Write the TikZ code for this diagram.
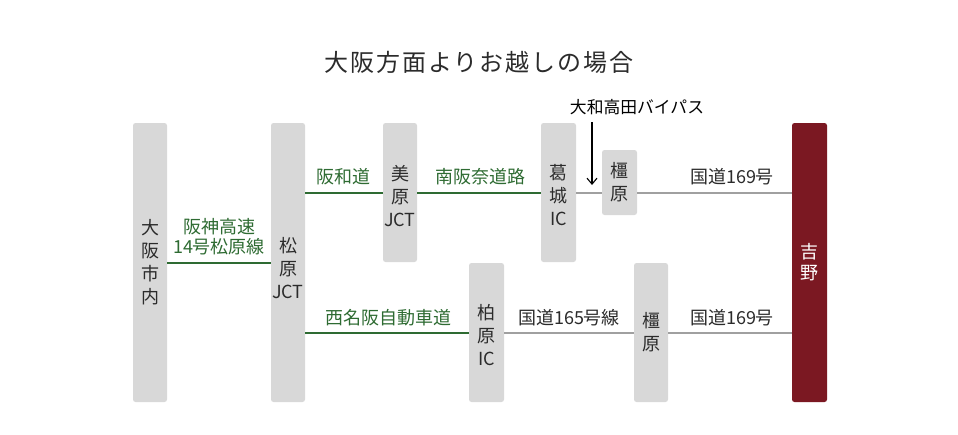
\documentclass[tikz,border=0pt]{standalone}
\usepackage{fontspec}
\setmainfont{Noto Sans CJK JP}
\usetikzlibrary{arrows.meta}
\definecolor{boxgray}{HTML}{D8D8D8}
\definecolor{txtgray}{HTML}{2B2B2B}
\definecolor{roadgreen}{HTML}{2E6B32}
\definecolor{roadgray}{HTML}{A0A0A0}
\definecolor{yoshinored}{HTML}{7B1822}
\tikzset{
  stopbox/.style={fill=boxgray, rounded corners=2.5pt, draw=none, inner sep=0pt},
  goalbox/.style={fill=yoshinored, rounded corners=2.5pt, draw=none, inner sep=0pt},
  boxtext/.style={text=txtgray, font=\fontsize{18}{23}\selectfont, align=center, inner sep=0pt},
  goaltext/.style={text=white, font=\fontsize{18}{21}\selectfont, align=center, inner sep=0pt},
  greenlabel/.style={text=roadgreen, font=\fontsize{18}{20}\selectfont, align=center, inner sep=0pt},
  graylabel/.style={text=txtgray, font=\fontsize{18}{20}\selectfont, align=center, inner sep=0pt},
  greenroad/.style={draw=roadgreen, line width=2pt},
  grayroad/.style={draw=roadgray, line width=2pt},
}
\begin{document}
\begin{tikzpicture}[x=1pt,y=-1pt]
\useasboundingbox (0,0) rectangle (958,434);
% title
\node[text=txtgray, font=\fontsize{24}{28}\selectfont, inner sep=0pt] (title) at (479,62)
  {\addfontfeatures{LetterSpace=8}大阪方面よりお越しの場合};
% boxes
\node[stopbox, minimum width=34pt, minimum height=279pt] (osaka) at (150,262.5) {};
\node[stopbox, minimum width=34pt, minimum height=279pt] (matsubara) at (288,262.5) {};
\node[stopbox, minimum width=34pt, minimum height=139pt] (mihara) at (400,192.5) {};
\node[stopbox, minimum width=35pt, minimum height=139pt] (katsuragi) at (558.5,192.5) {};
\node[stopbox, minimum width=35pt, minimum height=65pt] (kashihara1) at (619.5,182.5) {};
\node[stopbox, minimum width=35pt, minimum height=139pt] (kashiwara) at (486.5,332.5) {};
\node[stopbox, minimum width=34pt, minimum height=139pt] (kashihara2) at (651,332.5) {};
\node[goalbox, minimum width=35pt, minimum height=279pt] (yoshino) at (809.5,262.5) {};
% box texts
\node[boxtext] (t-osaka) at (osaka.center) {大\\阪\\市\\内};
\node[boxtext] (t-matsubara) at ([yshift=-6pt]matsubara.center) {松\\原\\JCT};
\node[boxtext] (t-mihara) at ([yshift=-4pt]mihara.center) {美\\原\\JCT};
\node[boxtext] (t-katsuragi) at ([yshift=-3pt]katsuragi.center) {葛\\城\\IC};
\node[boxtext] (t-kashihara1) at (kashihara1.center) {橿\\原};
\node[boxtext] (t-kashiwara) at ([yshift=-3pt]kashiwara.center) {柏\\原\\IC};
\node[boxtext] (t-kashihara2) at (kashihara2.center) {橿\\原};
\node[goaltext] (t-yoshino) at (yoshino.center) {吉\\野};
% roads
\draw[greenroad] (osaka.east) -- (matsubara.west);
\draw[greenroad] (matsubara.east |- mihara.center) -- (mihara.west);
\draw[greenroad] (mihara.east) -- (katsuragi.west);
\draw[grayroad] (katsuragi.east) -- (katsuragi.east -| kashihara1.west);
\draw[grayroad] (kashihara1.east |- katsuragi.center) -- (yoshino.west |- katsuragi.center);
\draw[greenroad] (matsubara.east |- kashiwara.center) -- (kashiwara.west);
\draw[grayroad] (kashiwara.east) -- (kashihara2.west);
\draw[grayroad] (kashihara2.east) -- (yoshino.west |- kashihara2.center);
% labels
\node[greenlabel] (l-hanshin) at (219,237) {阪神高速\\14号松原線};
\node[greenlabel] (l-hanwa) at (343,177) {阪和道};
\node[greenlabel] (l-minamihanna) at (480,177) {南阪奈道路};
\node[greenlabel] (l-nishimeihan) at (388,318) {西名阪自動車道};
\node[graylabel] (l-r165) at (569,318) {国道165号線};
\node[graylabel] (l-r169a) at (732,177) {国道169号};
\node[graylabel] (l-r169b) at (732,318) {国道169号};
% bypass
\node[text=black, font=\fontsize{16.8}{18}\selectfont, inner sep=0pt] (bypass) at (637,107.5) {大和高田バイパス};
\coordinate (arrS) at (592,122);
\coordinate (arrE) at (592,185);
\draw[black, line width=1.1pt, -{Straight Barb[length=6pt,width=10pt]}] (arrS) -- (arrE);
\end{tikzpicture}
\end{document}
